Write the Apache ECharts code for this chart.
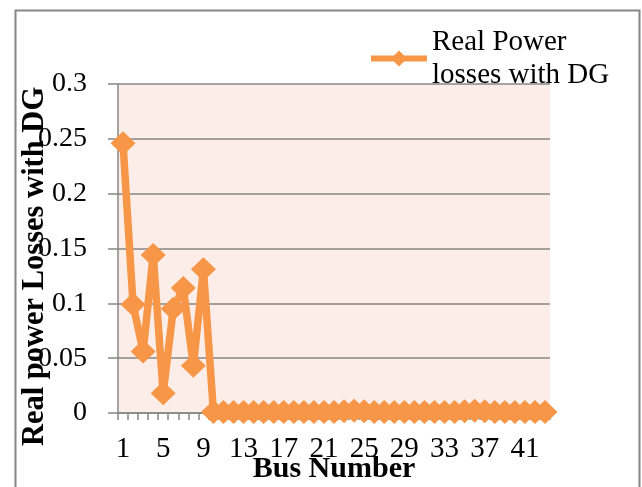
<!DOCTYPE html>
<html>
<head>
<meta charset="utf-8">
<script src="https://cdn.jsdelivr.net/npm/echarts@6/dist/echarts.min.js"></script>
<style>
html,body{margin:0;padding:0;background:#fff;}
#chart{width:642px;height:487px;}
</style>
</head>
<body>
<div id="chart"></div>
<script>
var busNumbers = [];
for (var i = 1; i <= 43; i++) busNumbers.push(String(i));

var lossesWithDG = [
  0.246, 0.099, 0.056, 0.144, 0.018, 0.095, 0.114, 0.043, 0.131,
  0.001, 0.001, 0.001, 0.001, 0.001, 0.001, 0.001, 0.001, 0.001, 0.001,
  0.001, 0.001, 0.001, 0.0015, 0.002, 0.0015, 0.001, 0.001, 0.001, 0.001,
  0.001, 0.001, 0.001, 0.001, 0.001, 0.0015, 0.002, 0.0015, 0.001, 0.001,
  0.001, 0.001, 0.001, 0.001
];

var yTicks = { min: 0, max: 0.3, interval: 0.05 };
var seriesName = 'Real Power\nlosses with DG';

var FONT = 'Liberation Serif, Times New Roman, serif';
var GRID_GREY = '#868686';
var ORANGE = '#F79646';

var chart = echarts.init(document.getElementById('chart'), null, { renderer: 'canvas' });
chart.setOption({
  backgroundColor: '#ffffff',
  animation: false,
  graphic: [{
    type: 'rect',
    left: 13, top: 8,
    shape: { width: 624, height: 500 },
    style: { fill: 'none', stroke: GRID_GREY, lineWidth: 2 },
    silent: true, z: -10
  }],
  grid: {
    left: 118, right: 92, top: 84, bottom: 74,
    containLabel: false,
    outerBoundsMode: 'none',
    show: true, backgroundColor: '#FCEDE8', borderWidth: 0
  },
  legend: {
    left: 363, top: 4,
    itemWidth: 56, itemHeight: 20, itemGap: 0,
    data: [seriesName],
    lineStyle: { width: 6 },
    textStyle: {
      fontFamily: FONT, fontSize: 29, color: '#000',
      lineHeight: 33, padding: [33, 0, 0, 0]
    }
  },
  xAxis: {
    type: 'category',
    data: busNumbers,
    boundaryGap: true,
    name: 'Bus Number',
    nameLocation: 'middle',
    nameGap: 41,
    nameMoveOverlap: false,
    nameTextStyle: { fontFamily: FONT, fontSize: 30, fontWeight: 'bold', color: '#000' },
    axisLine: { lineStyle: { color: GRID_GREY, width: 1.5 } },
    axisTick: { show: true, interval: 0, length: 7, lineStyle: { color: GRID_GREY, width: 1.5 } },
    axisLabel: { interval: 3, margin: 22, fontFamily: FONT, fontSize: 29, color: '#000' },
    splitLine: { show: false }
  },
  yAxis: {
    type: 'value',
    min: yTicks.min, max: yTicks.max, interval: yTicks.interval,
    name: 'Real power Losses with DG',
    nameLocation: 'middle',
    nameGap: 67,
    nameMoveOverlap: false,
    nameTextStyle: { fontFamily: FONT, fontSize: 30.5, fontWeight: 'bold', color: '#000', padding: [0, 36, 0, 0] },
    axisLine: { show: true, lineStyle: { color: GRID_GREY, width: 1.5 } },
    axisTick: { show: true, length: 10, lineStyle: { color: GRID_GREY, width: 1.5 } },
    axisLabel: { margin: 31, fontFamily: FONT, fontSize: 28, color: '#000' },
    splitLine: { show: true, lineStyle: { color: GRID_GREY, width: 1.5 } }
  },
  series: [{
    name: seriesName,
    type: 'line',
    data: lossesWithDG,
    symbol: 'diamond',
    symbolSize: [25, 24],
    showAllSymbol: true,
    lineStyle: { color: ORANGE, width: 7.5 },
    itemStyle: { color: ORANGE },
    z: 3
  }]
});
</script>
</body>
</html>
